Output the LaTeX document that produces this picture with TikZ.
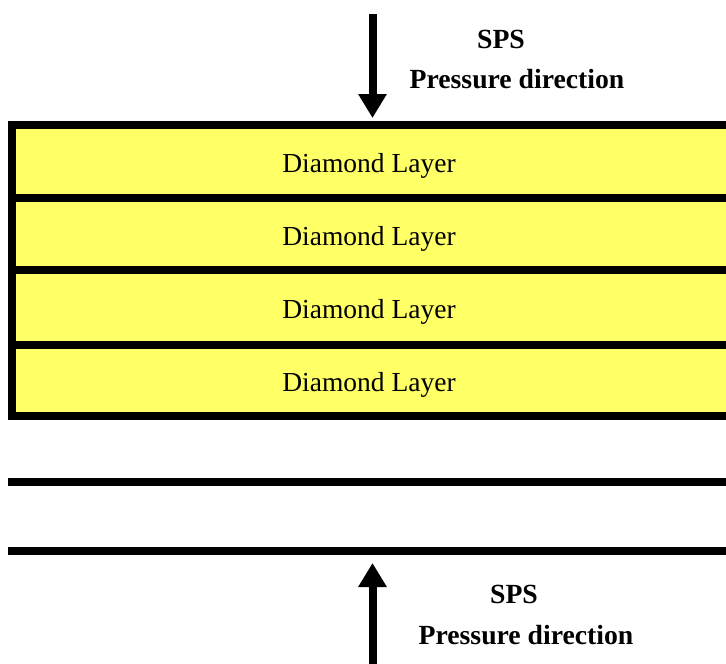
\documentclass[tikz,border=0pt]{standalone}
\usepackage{fontspec}
\setmainfont{Liberation Serif}
\usetikzlibrary{arrows.meta}
\definecolor{layerfill}{RGB}{255,255,102}
\begin{document}
\begin{tikzpicture}[x=1pt,y=-1pt,
  rule/.style={line width=8.5pt, line join=miter},
  lbl/.style={font=\fontsize{27.7}{32}\selectfont\bfseries, inner sep=0pt, anchor=base},
  layertext/.style={font=\fontsize{27.5}{32}\selectfont, inner sep=0pt, anchor=base},
  push/.style={line width=8pt, -{Triangle[width=27pt,length=24pt]}}
]
\useasboundingbox (0,0) rectangle (726,664);
\clip (0,0) rectangle (726,664);

% stack of diamond layers (runs past the right edge)
\draw[rule, fill=layerfill] (12,125) rectangle (780,416);
\draw[rule] (8,198) -- (780,198);
\draw[rule] (8,270) -- (780,270);
\draw[rule] (8,345) -- (780,345);

\node[layertext] (layer1) at (369,172) {Diamond Layer};
\node[layertext] (layer2) at (369,245) {Diamond Layer};
\node[layertext] (layer3) at (369,318) {Diamond Layer};
\node[layertext] (layer4) at (369,391) {Diamond Layer};

% lower punch plates
\draw[rule] (8,482) -- (780,482);
\draw[rule] (8,551) -- (780,551);

% pressing direction, top
\coordinate (topstart) at (372.5,14);
\coordinate (toptip) at (372.5,118);
\draw[push] (topstart) -- (toptip);
\node[lbl] (topsps) at (501,48) {SPS};
\node[lbl] (toppress) at (517,88) {Pressure direction};

% pressing direction, bottom
\coordinate (botstart) at (372.5,680);
\coordinate (bottip) at (372.5,563);
\draw[push] (botstart) -- (bottip);
\node[lbl] (botsps) at (514,603) {SPS};
\node[lbl] (botpress) at (526,644) {Pressure direction};
\end{tikzpicture}
\end{document}
